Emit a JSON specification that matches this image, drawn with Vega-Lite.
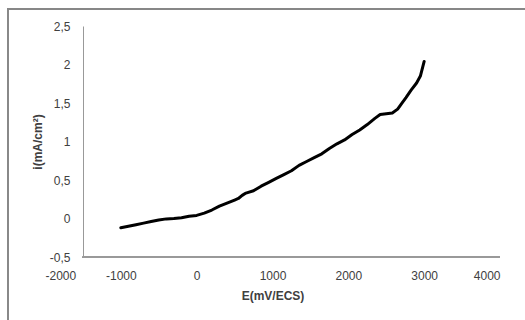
{
  "$schema": "https://vega.github.io/schema/vega-lite/v6.json",
  "autosize": "none",
  "width": 455,
  "height": 231,
  "padding": {"left": 45, "top": 26, "right": 25, "bottom": 63},
  "background": "white",
  "config": {
    "view": {"stroke": null},
    "font": "Liberation Sans",
    "axis": {"grid": false, "ticks": false, "tickSize": 0, "labelOverlap": false, "labelFont": "Liberation Sans", "labelFontSize": 12, "labelColor": "#404040", "titleFont": "Liberation Sans", "titleFontSize": 12, "titleFontWeight": "bold", "titleColor": "#404040", "domainColor": "#999999"}
  },
  "data": {
    "values": [
      {"E": -1000, "i": -0.12},
      {"E": -900, "i": -0.10},
      {"E": -800, "i": -0.08},
      {"E": -700, "i": -0.06},
      {"E": -600, "i": -0.04},
      {"E": -500, "i": -0.02},
      {"E": -400, "i": -0.005},
      {"E": -300, "i": 0.0},
      {"E": -200, "i": 0.01},
      {"E": -100, "i": 0.03},
      {"E": 0, "i": 0.04},
      {"E": 100, "i": 0.07},
      {"E": 200, "i": 0.11},
      {"E": 300, "i": 0.16},
      {"E": 400, "i": 0.20},
      {"E": 500, "i": 0.24},
      {"E": 550, "i": 0.26},
      {"E": 600, "i": 0.30},
      {"E": 650, "i": 0.33},
      {"E": 750, "i": 0.36},
      {"E": 850, "i": 0.42},
      {"E": 950, "i": 0.47},
      {"E": 1050, "i": 0.52},
      {"E": 1150, "i": 0.57},
      {"E": 1250, "i": 0.62},
      {"E": 1350, "i": 0.69},
      {"E": 1450, "i": 0.74},
      {"E": 1550, "i": 0.79},
      {"E": 1650, "i": 0.84},
      {"E": 1750, "i": 0.91},
      {"E": 1850, "i": 0.97},
      {"E": 1950, "i": 1.02},
      {"E": 2050, "i": 1.09},
      {"E": 2150, "i": 1.15},
      {"E": 2250, "i": 1.22},
      {"E": 2350, "i": 1.30},
      {"E": 2420, "i": 1.35},
      {"E": 2500, "i": 1.36},
      {"E": 2580, "i": 1.37},
      {"E": 2650, "i": 1.42},
      {"E": 2700, "i": 1.49},
      {"E": 2760, "i": 1.57},
      {"E": 2830, "i": 1.67},
      {"E": 2900, "i": 1.76},
      {"E": 2950, "i": 1.85},
      {"E": 3000, "i": 2.04}
    ]
  },
  "layer": [
    {
      "mark": {"type": "line", "color": "black", "strokeWidth": 3, "strokeJoin": "round", "strokeCap": "round"},
      "encoding": {
        "x": {
          "field": "E", "type": "quantitative",
          "scale": {"domain": [-2000, 4000], "nice": false, "zero": false},
          "axis": {"title": "E(mV/ECS)", "domain": false, "tickCount": 20, "values": [-2000, -1000, 0, 1000, 2000, 3000, 4000], "labelPadding": 13, "titlePadding": 9, "labelExpr": "replace(format(datum.value, 'd'), '\u2212', '-')"}
        },
        "y": {
          "field": "i", "type": "quantitative",
          "scale": {"domain": [-0.5, 2.5], "nice": false, "zero": false},
          "axis": {"title": "i(mA/cm²)", "offset": -38, "tickCount": 20, "values": [-0.5, 0, 0.5, 1, 1.5, 2, 2.5], "labelPadding": 13, "titlePadding": 5, "labelExpr": "replace(replace(format(datum.value, '~g'), '.', ','), '\u2212', '-')"}
        }
      }
    },
    {
      "mark": {"type": "rule", "color": "#888888", "strokeWidth": 1},
      "encoding": {
        "x": {"datum": -2490, "type": "quantitative"},
        "y": {"datum": -1.5, "type": "quantitative"},
        "y2": {"datum": 2.72}
      }
    },
    {
      "mark": {"type": "rule", "color": "#888888", "strokeWidth": 1},
      "encoding": {
        "y": {"datum": 2.72, "type": "quantitative"},
        "x": {"datum": -2490, "type": "quantitative"},
        "x2": {"datum": 4600}
      }
    },
    {
      "mark": {"type": "rule", "color": "#999999", "strokeWidth": 1},
      "encoding": {
        "y": {"datum": -0.5, "type": "quantitative"},
        "x": {"datum": -1500, "type": "quantitative"},
        "x2": {"datum": 4000}
      }
    }
  ]
}
